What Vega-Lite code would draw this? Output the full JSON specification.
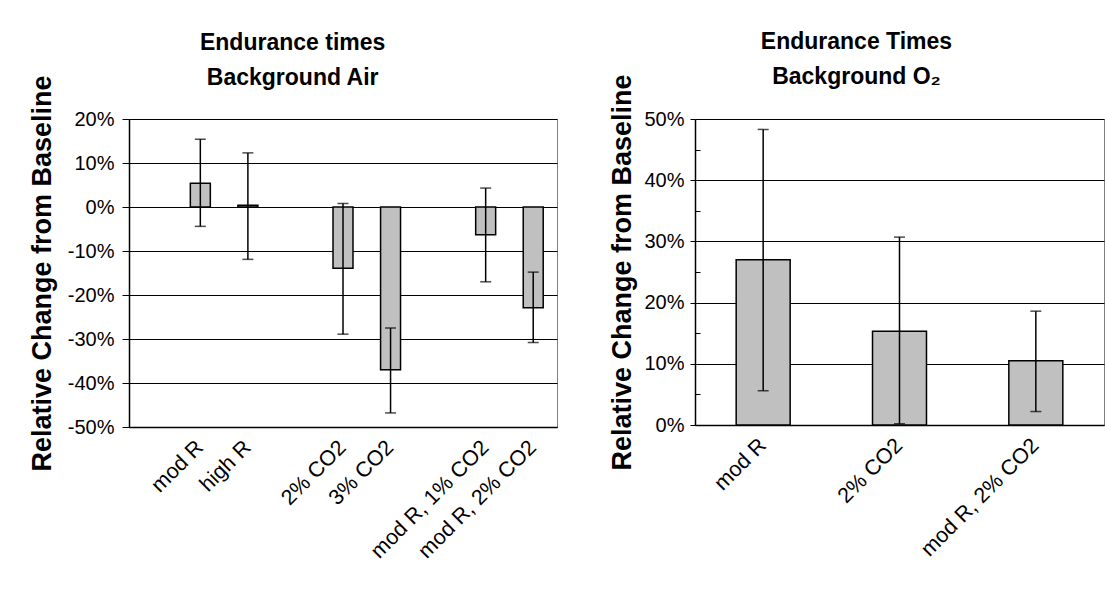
{
  "$schema": "https://vega.github.io/schema/vega-lite/v6.json",
  "padding": {"left": 27, "top": 30, "right": 2, "bottom": 5},
  "background": "white",
  "config": {
    "font": "Liberation Sans",
    "view": {"stroke": "#808080", "strokeWidth": 1},
    "axis": {
      "labelFont": "Liberation Sans", "labelFontSize": 20, "labelColor": "black",
      "titleFont": "Liberation Sans", "titleFontSize": 27, "titleFontWeight": "bold", "titleColor": "black",
      "domainColor": "black", "domainWidth": 1.5, "tickColor": "black", "gridColor": "black", "gridOpacity": 1
    },
    "title": {"font": "Liberation Sans", "fontSize": 23, "fontWeight": "bold", "color": "black", "lineHeight": 35, "anchor": "middle", "frame": "bounds", "offset": -15},
    "concat": {"spacing": 50}
  },
  "datasets": {
    "air": [
      {"condition": "mod R", "change": 5.4, "low": -4.4, "high": 15.4},
      {"condition": "high R", "change": 0.4, "low": -11.9, "high": 12.3},
      {"condition": "2% CO2", "change": -13.9, "low": -28.9, "high": 0.8},
      {"condition": "3% CO2", "change": -37.0, "low": -46.8, "high": -27.5},
      {"condition": "mod R, 1% CO2", "change": -6.3, "low": -17.0, "high": 4.3},
      {"condition": "mod R, 2% CO2", "change": -22.9, "low": -30.8, "high": -14.8}
    ],
    "o2": [
      {"condition": "mod R", "change": 27.0, "low": 5.6, "high": 48.3},
      {"condition": "2% CO2", "change": 15.3, "low": 0.2, "high": 30.7},
      {"condition": "mod R, 2% CO2", "change": 10.5, "low": 2.2, "high": 18.6}
    ]
  },
  "hconcat": [
    {
      "width": 428, "height": 308,
      "title": {"text": ["Endurance times", "Background Air"]},
      "data": {"name": "air"},
      "encoding": {
        "x": {
          "field": "condition", "type": "nominal", "sort": null,
          "scale": {"domain": ["gap1", "mod R", "high R", "gap2", "2% CO2", "3% CO2", "gap3", "mod R, 1% CO2", "mod R, 2% CO2"], "paddingInner": 0.58, "paddingOuter": 0.29},
          "axis": {"title": null, "labelAngle": -45, "labelExpr": "indexof(datum.value, 'gap') == 0 ? '' : datum.value", "ticks": false, "labelFontSize": 21.5, "labelPadding": 17, "labelAlign": "right", "labelBaseline": "middle", "domainWidth": 1.5}
        }
      },
      "layer": [
        {
          "mark": {"type": "bar", "fill": "#c0c0c0", "stroke": "black", "strokeWidth": 1.5},
          "encoding": {
            "y": {
              "field": "change", "type": "quantitative", "title": "Relative Change from Baseline",
              "scale": {"domain": [-50, 20], "nice": false},
              "axis": {"values": [-50, -40, -30, -20, -10, 0, 10, 20], "labelExpr": "datum.value + '%'", "tickSize": 7, "labelPadding": 8, "titlePadding": 11, "grid": true, "gridWidth": 1}
            }
          }
        },
        {
          "mark": {"type": "errorbar", "ticks": {"size": 11, "thickness": 1.5, "color": "black"}, "rule": {"strokeWidth": 1.5, "color": "black"}},
          "encoding": {
            "y": {"field": "low", "type": "quantitative", "title": "Relative Change from Baseline"},
            "y2": {"field": "high"}
          }
        }
      ]
    },
    {
      "width": 409, "height": 306,
      "title": {"text": ["Endurance Times", "Background O₂"]},
      "data": {"name": "o2"},
      "encoding": {
        "x": {
          "field": "condition", "type": "nominal", "sort": null,
          "scale": {"domain": ["mod R", "2% CO2", "mod R, 2% CO2"], "paddingInner": 0.604, "paddingOuter": 0.302},
          "axis": {"title": null, "labelAngle": -45, "ticks": false, "labelFontSize": 21.5, "labelPadding": 17, "labelAlign": "right", "labelBaseline": "middle", "domainWidth": 1.5}
        }
      },
      "layer": [
        {
          "mark": {"type": "bar", "fill": "#c0c0c0", "stroke": "black", "strokeWidth": 1.5},
          "encoding": {
            "y": {
              "field": "change", "type": "quantitative", "title": "Relative Change from Baseline",
              "scale": {"domain": [0, 50], "nice": false},
              "axis": {"orient": "left", "values": [0, 10, 20, 30, 40, 50], "labelExpr": "datum.value + '%'", "tickSize": 5, "labelPadding": 6, "titlePadding": 7, "grid": true, "gridWidth": 1}
            }
          }
        },
        {
          "mark": {"type": "errorbar", "ticks": {"size": 11, "thickness": 1.5, "color": "black"}, "rule": {"strokeWidth": 1.5, "color": "black"}},
          "encoding": {
            "y": {"field": "low", "type": "quantitative", "axis": {"orient": "left", "values": [0, 5, 10, 15, 20, 25, 30, 35, 40, 45, 50], "tickSize": -5, "labels": false, "domain": false, "grid": false, "title": null}},
            "y2": {"field": "high"}
          }
        }
      ],
      "resolve": {"axis": {"y": "independent"}}
    }
  ]
}
